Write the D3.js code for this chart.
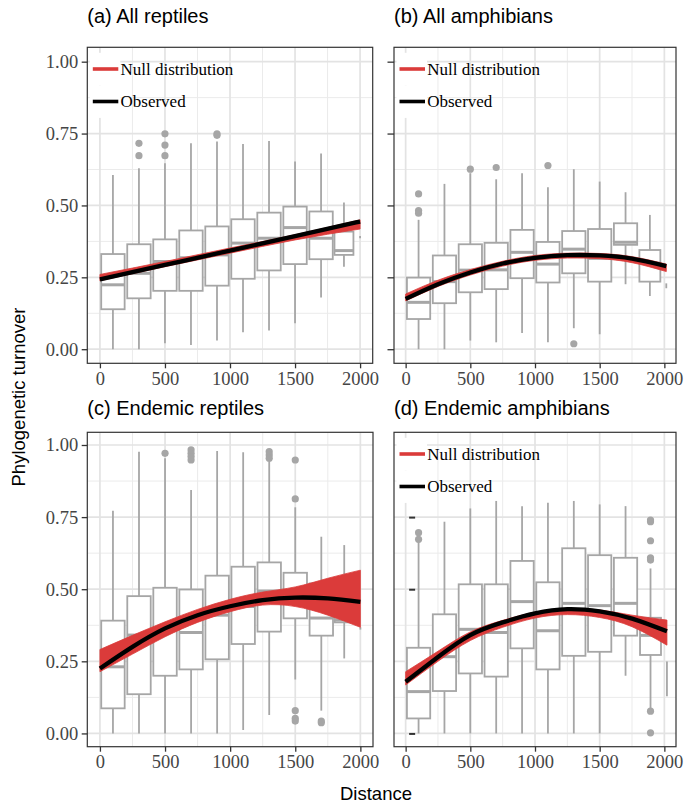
<!DOCTYPE html>
<html>
<head>
<meta charset="utf-8">
<script src="https://cdn.jsdelivr.net/npm/d3@7"></script>
<style>
  body { margin: 0; background: #ffffff; }
  .axis text { font-family: "Liberation Serif", "Times New Roman", serif; font-size: 18.5px; fill: #454545; }
  .axis line { stroke: #333333; stroke-width: 1.3px; }
  .axis path { display: none; }
</style>
</head>
<body>
<div id="chart"></div>
<script>

// ---- data ----
// distance bins (data range of each group), box stats [low whisker, q1, median, q3, high whisker]
// outliers are [group index, value]

// (a) All reptiles
var allReptRange = [[0, 200], [200, 400], [400, 600], [600, 800], [800, 1000], [1000, 1200], [1200, 1400], [1400, 1600], [1600, 1800], [1795, 1957], [2000, 2000]];
var allReptStats = [
  [0.000, 0.139, 0.224, 0.331, 0.606],
  [0.000, 0.177, 0.264, 0.365, 0.629],
  [0.021, 0.203, 0.305, 0.382, 0.647],
  [0.015, 0.203, 0.318, 0.413, 0.716],
  [0.030, 0.221, 0.328, 0.427, 0.722],
  [0.059, 0.245, 0.369, 0.452, 0.714],
  [0.065, 0.274, 0.386, 0.475, 0.724],
  [0.090, 0.296, 0.423, 0.496, 0.653],
  [0.180, 0.313, 0.386, 0.479, 0.681],
  [0.287, 0.328, 0.343, 0.409, 0.510],
  [0.386, 0.388, 0.390, 0.392, 0.394]
];
var allReptOut = [[1, 0.716], [1, 0.673], [2, 0.749], [2, 0.710], [2, 0.673], [4, 0.749], [4, 0.744]];
var allReptCurveX = [0, 500, 1000, 1500, 2000];
var allReptObs = [0.243, 0.293, 0.343, 0.393, 0.444];
var allReptNullLo = [0.238, 0.287, 0.334, 0.380, 0.418];
var allReptNullHi = [0.260, 0.305, 0.352, 0.398, 0.450];

// (b) All amphibians
var allAmphRange = [[0, 200], [200, 400], [400, 600], [600, 800], [800, 1000], [1000, 1200], [1200, 1400], [1400, 1600], [1600, 1800], [1798, 1978], [2015, 2015]];
var allAmphStats = [
  [0.000, 0.105, 0.163, 0.249, 0.450],
  [0.000, 0.160, 0.235, 0.326, 0.575],
  [0.030, 0.198, 0.275, 0.365, 0.612],
  [0.024, 0.209, 0.276, 0.370, 0.591],
  [0.056, 0.247, 0.337, 0.415, 0.612],
  [0.024, 0.232, 0.296, 0.373, 0.563],
  [0.073, 0.264, 0.348, 0.411, 0.626],
  [0.052, 0.235, 0.316, 0.418, 0.583],
  [0.226, 0.363, 0.372, 0.438, 0.546],
  [0.185, 0.235, 0.299, 0.345, 0.467],
  [0.212, 0.216, 0.220, 0.225, 0.229]
];
var allAmphOut = [[0, 0.540], [0, 0.482], [0, 0.473], [2, 0.626], [3, 0.632], [5, 0.639], [6, 0.019]];
var allAmphCurveX = [0, 250, 500, 750, 1000, 1250, 1500, 1750, 2015];
var allAmphObs = [0.175, 0.226, 0.267, 0.298, 0.318, 0.327, 0.326, 0.315, 0.289];
var allAmphNullLo = [0.168, 0.218, 0.258, 0.289, 0.309, 0.317, 0.315, 0.301, 0.270];
var allAmphNullHi = [0.192, 0.240, 0.277, 0.306, 0.326, 0.334, 0.333, 0.322, 0.296];

// (c) Endemic reptiles
var endReptRange = [[0, 200], [200, 400], [400, 600], [600, 800], [800, 1000], [1000, 1200], [1200, 1400], [1400, 1600], [1600, 1800], [1795, 1957], [2000, 2000]];
var endReptStats = [
  [0.000, 0.087, 0.231, 0.391, 0.772],
  [0.000, 0.136, 0.341, 0.476, 0.977],
  [0.000, 0.200, 0.358, 0.505, 0.954],
  [0.000, 0.222, 0.350, 0.499, 0.844],
  [0.000, 0.257, 0.410, 0.547, 0.979],
  [0.012, 0.310, 0.440, 0.578, 0.975],
  [0.064, 0.353, 0.494, 0.593, 0.960],
  [0.187, 0.399, 0.470, 0.557, 0.784],
  [0.079, 0.339, 0.400, 0.520, 0.682],
  [0.260, 0.385, 0.393, 0.514, 0.653],
  [0.360, 0.362, 0.364, 0.366, 0.368]
];
var endReptOut = [[2, 0.971], [3, 0.983], [3, 0.971], [3, 0.960], [3, 0.948], [6, 0.977], [6, 0.965], [6, 0.954],
  [7, 0.948], [7, 0.813], [7, 0.079], [7, 0.052], [7, 0.043], [8, 0.043], [8, 0.037]];
var endReptCurveX = [0, 250, 500, 750, 1000, 1250, 1500, 1750, 2000];
var endReptObs = [0.225, 0.300, 0.364, 0.410, 0.441, 0.462, 0.471, 0.468, 0.456];
var endReptNullLo = [0.214, 0.275, 0.335, 0.385, 0.422, 0.445, 0.440, 0.410, 0.368];
var endReptNullHi = [0.291, 0.340, 0.387, 0.430, 0.465, 0.490, 0.508, 0.538, 0.566];

// (d) Endemic amphibians
var endAmphRange = [[0, 200], [200, 400], [400, 600], [600, 800], [800, 1000], [1000, 1200], [1200, 1400], [1400, 1600], [1600, 1800], [1803, 1983], [2020, 2020]];
var endAmphStats = [
  [0.000, 0.052, 0.145, 0.297, 0.665],
  [0.000, 0.147, 0.266, 0.413, 0.734],
  [0.000, 0.208, 0.361, 0.517, 0.780],
  [0.000, 0.197, 0.350, 0.517, 0.806],
  [0.000, 0.295, 0.457, 0.598, 0.788],
  [0.000, 0.222, 0.356, 0.524, 0.800],
  [0.000, 0.269, 0.451, 0.642, 0.806],
  [0.000, 0.283, 0.443, 0.618, 0.794],
  [0.200, 0.339, 0.451, 0.609, 0.788],
  [0.087, 0.272, 0.340, 0.401, 0.572],
  [0.129, 0.150, 0.190, 0.230, 0.249]
];
var endAmphOut = [[0, 0.696], [0, 0.673], [9, 0.740], [9, 0.734], [9, 0.668], [9, 0.609], [9, 0.601], [9, 0.077], [9, 0.002]];
var endAmphCurveX = [0, 250, 500, 750, 1000, 1250, 1500, 1750, 2020];
var endAmphObs = [0.179, 0.265, 0.341, 0.385, 0.416, 0.431, 0.423, 0.398, 0.354];
var endAmphNullLo = [0.168, 0.250, 0.322, 0.368, 0.400, 0.412, 0.402, 0.370, 0.306];
var endAmphNullHi = [0.214, 0.285, 0.352, 0.392, 0.420, 0.432, 0.428, 0.410, 0.393];

// axis ticks
var xMajor = [0, 500, 1000, 1500, 2000];
var xMinor = [250, 750, 1250, 1750];
var yMajor = [0, 0.25, 0.5, 0.75, 1];
var yMinor = [0.125, 0.375, 0.625, 0.875];
var legendLabels = ["Null distribution", "Observed"];

// ---- drawing ----
var svgWidth = 684;
var svgHeight = 804;

var boxGrey = "#a6a6a6";
var nullRed = "#db3b3a";

var svg = d3.select("#chart")
    .append("svg")
    .attr("width", svgWidth)
    .attr("height", svgHeight);

var panels = [
  { title: "(a) All reptiles", left: 87.3, top: 47.3, width: 285.4, height: 316, titleY: 22.7,
    xDomain: [-97, 2097], yDomain: [-0.049, 1.05],
    range: allReptRange, stats: allReptStats, out: allReptOut,
    cx: allReptCurveX, obs: allReptObs, lo: allReptNullLo, hi: allReptNullHi,
    yAxis: "labels", legend: true },
  { title: "(b) All amphibians", left: 394, top: 47.3, width: 282, height: 316, titleY: 23.3,
    xDomain: [-90, 2090], yDomain: [-0.049, 1.05],
    range: allAmphRange, stats: allAmphStats, out: allAmphOut,
    cx: allAmphCurveX, obs: allAmphObs, lo: allAmphNullLo, hi: allAmphNullHi,
    yAxis: "ticks", legend: true },
  { title: "(c) Endemic reptiles", left: 87.3, top: 432.3, width: 285.7, height: 314.4, titleY: 415,
    xDomain: [-97, 2097], yDomain: [-0.046, 1.044],
    range: endReptRange, stats: endReptStats, out: endReptOut,
    cx: endReptCurveX, obs: endReptObs, lo: endReptNullLo, hi: endReptNullHi,
    yAxis: "labels", legend: false },
  { title: "(d) Endemic amphibians", left: 394, top: 432.3, width: 282, height: 314.4, titleY: 415,
    xDomain: [-90, 2090], yDomain: [-0.046, 1.044],
    range: endAmphRange, stats: endAmphStats, out: endAmphOut,
    cx: endAmphCurveX, obs: endAmphObs, lo: endAmphNullLo, hi: endAmphNullHi,
    yAxis: "inside", legend: true }
];

panels.forEach(drawPanel);

function drawPanel(p) {

    var x = d3.scaleLinear().domain(p.xDomain).range([p.left, p.left + p.width]);
    var y = d3.scaleLinear().domain(p.yDomain).range([p.top + p.height, p.top]);

    var g = svg.append("g");

    // panel background
    g.append("rect")
        .attr("x", p.left).attr("y", p.top)
        .attr("width", p.width).attr("height", p.height)
        .attr("fill", "white");

    // grid lines (minor first, then major)
    g.selectAll(".ygm").data(yMinor).enter().append("line")
        .attr("x1", p.left).attr("x2", p.left + p.width)
        .attr("y1", function (d) { return y(d); }).attr("y2", function (d) { return y(d); })
        .attr("stroke", "#ebebeb").attr("stroke-width", 1);
    g.selectAll(".xgm").data(xMinor).enter().append("line")
        .attr("y1", p.top).attr("y2", p.top + p.height)
        .attr("x1", function (d) { return x(d); }).attr("x2", function (d) { return x(d); })
        .attr("stroke", "#ebebeb").attr("stroke-width", 1);
    g.selectAll(".ygM").data(yMajor).enter().append("line")
        .attr("x1", p.left).attr("x2", p.left + p.width)
        .attr("y1", function (d) { return y(d); }).attr("y2", function (d) { return y(d); })
        .attr("stroke", "#e3e3e3").attr("stroke-width", 1.7);
    g.selectAll(".xgM").data(xMajor).enter().append("line")
        .attr("y1", p.top).attr("y2", p.top + p.height)
        .attr("x1", function (d) { return x(d); }).attr("x2", function (d) { return x(d); })
        .attr("stroke", "#e3e3e3").attr("stroke-width", 1.7);

    // y ticks drawn inside the panel for (d)
    if (p.yAxis === "inside") {
        g.append("g")
            .attr("class", "axis")
            .attr("transform", "translate(" + (x(0) + 9.5) + ",0)")
            .call(d3.axisLeft(y).tickValues(yMajor).tickSize(6).tickFormat(""))
            .selectAll("line").style("stroke-width", "2px");
    }

    // boxplots
    var groups = p.range.map(function (r, i) {
        return { mid: (r[0] + r[1]) / 2, half: 0.45 * (r[1] - r[0]), s: p.stats[i] };
    });

    var box = g.selectAll(".box").data(groups).enter().append("g");

    box.append("line")
        .attr("x1", function (d) { return x(d.mid); }).attr("x2", function (d) { return x(d.mid); })
        .attr("y1", function (d) { return y(d.s[0]); }).attr("y2", function (d) { return y(d.s[4]); })
        .attr("stroke", boxGrey).attr("stroke-width", 1.8);

    box.filter(function (d) { return d.half > 0; }).append("rect")
        .attr("x", function (d) { return x(d.mid - d.half); })
        .attr("width", function (d) { return x(d.mid + d.half) - x(d.mid - d.half); })
        .attr("y", function (d) { return y(d.s[3]); })
        .attr("height", function (d) { return y(d.s[1]) - y(d.s[3]); })
        .attr("fill", "white").attr("stroke", boxGrey).attr("stroke-width", 1.8);

    box.filter(function (d) { return d.half > 0; }).append("line")
        .attr("x1", function (d) { return x(d.mid - d.half); })
        .attr("x2", function (d) { return x(d.mid + d.half); })
        .attr("y1", function (d) { return y(d.s[2]); }).attr("y2", function (d) { return y(d.s[2]); })
        .attr("stroke", boxGrey).attr("stroke-width", 3);

    g.selectAll(".outlier").data(p.out).enter().append("circle")
        .attr("cx", function (d) { return x(groups[d[0]].mid); })
        .attr("cy", function (d) { return y(d[1]); })
        .attr("r", 3.6)
        .attr("fill", boxGrey);

    // null distribution band and observed curve
    var bandData = p.cx.map(function (v, i) { return { d: v, lo: p.lo[i], hi: p.hi[i], obs: p.obs[i] }; });

    var band = d3.area()
        .x(function (d) { return x(d.d); })
        .y0(function (d) { return y(d.lo); })
        .y1(function (d) { return y(d.hi); })
        .curve(d3.curveNatural);

    g.append("path")
        .datum(bandData)
        .attr("d", band)
        .attr("fill", nullRed)
        .attr("stroke", nullRed)
        .attr("stroke-width", 0.8);

    var obsLine = d3.line()
        .x(function (d) { return x(d.d); })
        .y(function (d) { return y(d.obs); })
        .curve(d3.curveNatural);

    g.append("path")
        .datum(bandData)
        .attr("d", obsLine)
        .attr("fill", "none")
        .attr("stroke", "black")
        .attr("stroke-width", 4.3);

    // legend
    if (p.legend) {
        var leg = g.selectAll(".leg").data(legendLabels).enter().append("g")
            .attr("transform", function (d, i) { return "translate(" + p.left + "," + (p.top + 21.7 + i * 32.5) + ")"; });
        leg.append("rect")
            .attr("x", 2.5).attr("y", -16.2).attr("width", 30.5).attr("height", 32.6)
            .attr("fill", "white");
        leg.append("line")
            .attr("x1", 5.5).attr("x2", 31).attr("y1", 0).attr("y2", 0)
            .attr("stroke", function (d, i) { return i === 0 ? nullRed : "black"; })
            .attr("stroke-width", 3.6);
        leg.append("text")
            .attr("x", 33.2).attr("y", 5.5)
            .style("font-family", "'Liberation Serif', 'Times New Roman', serif")
            .style("font-size", "17px")
            .attr("fill", "black")
            .text(function (d) { return d; });
    }

    // panel border
    g.append("rect")
        .attr("x", p.left).attr("y", p.top)
        .attr("width", p.width).attr("height", p.height)
        .attr("fill", "none").attr("stroke", "#333333").attr("stroke-width", 1.2);

    // x axis
    g.append("g")
        .attr("class", "axis")
        .attr("transform", "translate(0," + (p.top + p.height) + ")")
        .call(d3.axisBottom(x).tickValues(xMajor).tickSize(5).tickPadding(3.5).tickFormat(d3.format("d")));

    // y axis
    if (p.yAxis === "labels") {
        g.append("g")
            .attr("class", "axis")
            .attr("transform", "translate(" + p.left + ",0)")
            .call(d3.axisLeft(y).tickValues(yMajor).tickSize(5.6).tickPadding(3.5).tickFormat(d3.format(".2f")));
    } else if (p.yAxis === "ticks") {
        g.append("g")
            .attr("class", "axis")
            .attr("transform", "translate(" + p.left + ",0)")
            .call(d3.axisLeft(y).tickValues(yMajor).tickSize(6.5).tickFormat(""));
    }

    // panel title
    svg.append("text")
        .attr("x", p.left)
        .attr("y", p.titleY)
        .style("font-family", "'Liberation Sans', Arial, sans-serif")
        .style("font-size", "20px")
        .attr("fill", "black")
        .text(p.title);
}

// axis titles
svg.append("text")
    .attr("transform", "translate(25,397) rotate(-90)")
    .attr("text-anchor", "middle")
    .style("font-family", "'Liberation Sans', Arial, sans-serif")
    .style("font-size", "18.5px")
    .text("Phylogenetic turnover");

svg.append("text")
    .attr("x", 376)
    .attr("y", 800)
    .attr("text-anchor", "middle")
    .style("font-family", "'Liberation Sans', Arial, sans-serif")
    .style("font-size", "18.5px")
    .text("Distance");

</script>
</body>
</html>
